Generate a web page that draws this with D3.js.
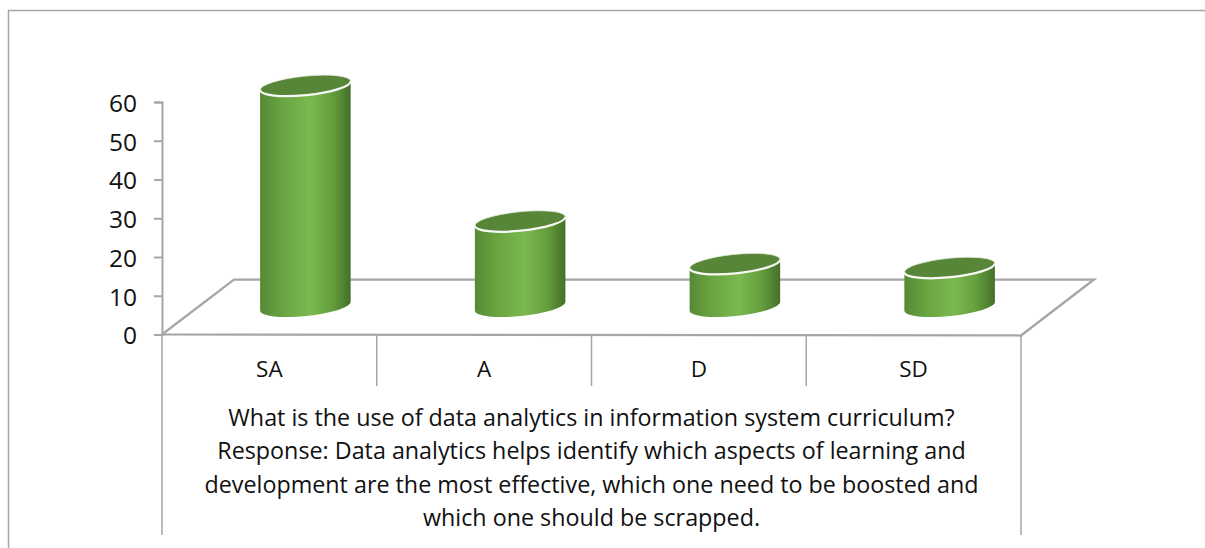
<!DOCTYPE html>
<html>
<head>
<meta charset="utf-8">
<script src="https://cdn.jsdelivr.net/npm/d3@7"></script>
<style>
  html, body { margin: 0; padding: 0; background: #fff; overflow: hidden; }
  text { font-family: "Open Sans", sans-serif; fill: #111; }
</style>
</head>
<body>
<div id="chart"></div>
<script>
var categories = ["SA", "A", "D", "SD"];
var values = [57, 22, 11, 10];
var y_ticks = [0, 10, 20, 30, 40, 50, 60];
var title_lines = [
  "What is the use of data analytics in information system curriculum?",
  "Response: Data analytics helps identify which aspects of learning and",
  "development are the most effective, which one need to be boosted and",
  "which one should be scrapped."
];

var width = 1205, height = 548;
var config = { left: 162, right: 1021, y0: 334.5, y60: 102, depth_x: 73, depth_y: 55, base_lift: 28, bar_x_shift: 36, rx: 45.5, ry: 9.5, tilt: -5.8 };
var grey = "#a6a6a6";

var svg = d3.select("#chart").append("svg").attr("width", width).attr("height", height).style("display", "block");

var xScale = d3.scaleBand().domain(categories).range([config.left, config.right]);
var yScale = d3.scaleLinear().domain([0, 60]).range([config.y0, config.y60]);

// bar side shading
var grad = svg.append("defs").append("linearGradient").attr("id", "side").attr("x1", "0%").attr("x2", "100%").attr("y1", "0%").attr("y2", "0%");
[[0, "#568a35"], [0.25, "#69a541"], [0.55, "#7ab94f"], [0.8, "#639e3c"], [1, "#44702a"]].forEach((s) => {
  grad.append("stop").attr("offset", s[0]).attr("stop-color", s[1]);
});

// outer frame, cut off by the page on the right and bottom
svg.append("path").attr("d", "M8.5," + height + "V10.5H" + width).attr("fill", "none").attr("stroke", grey).attr("stroke-width", 1.5);

// floor
var floor = d3.path();
floor.moveTo(config.left, config.y0);
floor.lineTo(config.left + config.depth_x - 1, config.y0 - config.depth_y);
floor.lineTo(config.right + config.depth_x, config.y0 - config.depth_y);
floor.lineTo(config.right, config.y0 + 1);
floor.closePath();
svg.append("path").attr("d", floor.toString()).attr("fill", "none").attr("stroke", grey).attr("stroke-width", 2.25);

// y axis
var yAxis = d3.axisLeft(yScale).tickValues(y_ticks).tickSize(8).tickPadding(17);
var yG = svg.append("g").attr("transform", "translate(" + config.left + ",0)").call(yAxis);
yG.selectAll("path, line").attr("stroke", grey).attr("stroke-width", 2);
yG.selectAll("text").attr("font-size", 24.5).attr("font-family", '"Open Sans", sans-serif').attr("fill", "#111").attr("dy", "0.38em");

// category dividers and the long outer lines of the table
var dividers = categories.map((c) => xScale(c)).concat([config.right]);
svg.selectAll(".divider").data(dividers).join("line").attr("class", "divider")
  .attr("x1", (d) => d).attr("x2", (d) => d).attr("y1", config.y0)
  .attr("y2", (d) => (d == config.left || d == config.right) ? 535 : 386)
  .attr("stroke", grey).attr("stroke-width", 1.5);

svg.selectAll(".cat").data(categories).join("text").attr("class", "cat")
  .attr("x", (d) => xScale(d) + xScale.bandwidth() / 2).attr("y", 377)
  .attr("text-anchor", "middle").attr("font-size", 22.5).text((d) => d);

// cylinders
var rad = config.tilt * Math.PI / 180;
var dx = config.rx * Math.cos(rad), dy = config.rx * Math.sin(rad);
var bars = svg.selectAll(".bar").data(values).join("g").attr("class", "bar")
  .attr("transform", (d, i) => "translate(" + (xScale(categories[i]) + xScale.bandwidth() / 2 + config.bar_x_shift) + ",0)");

bars.append("path").attr("fill", "url(#side)").attr("d", (d) => {
  var top = yScale(d) - config.base_lift, base = yScale(0) - config.base_lift;
  return "M" + (-dx) + "," + (top - dy) + "L" + (-dx) + "," + (base - dy)
    + "A" + config.rx + "," + config.ry + " " + config.tilt + " 0 0 " + dx + "," + (base + dy)
    + "L" + dx + "," + (top + dy) + "Z";
});
bars.append("ellipse").attr("rx", config.rx).attr("ry", config.ry)
  .attr("transform", (d) => "translate(0," + (yScale(d) - config.base_lift) + ") rotate(" + config.tilt + ")")
  .attr("fill", "#578638").attr("stroke", "#e4ecdc").attr("stroke-width", 0.75);
// the white rim shows only on the front edge of the lid
bars.append("path").attr("fill", "none").attr("stroke", "#f6f8f2").attr("stroke-width", 2.25).attr("d", (d) => {
  var top = yScale(d) - config.base_lift;
  return "M" + (-dx) + "," + (top - dy) + "A" + config.rx + "," + config.ry + " " + config.tilt + " 0 0 " + dx + "," + (top + dy);
});

// title under the axis
svg.selectAll(".title-line").data(title_lines).join("text").attr("class", "title-line")
  .attr("x", 591.5).attr("y", (d, i) => 426 + i * 33.4)
  .attr("text-anchor", "middle").attr("font-size", 23.3).text((d) => d);
</script>
</body>
</html>
